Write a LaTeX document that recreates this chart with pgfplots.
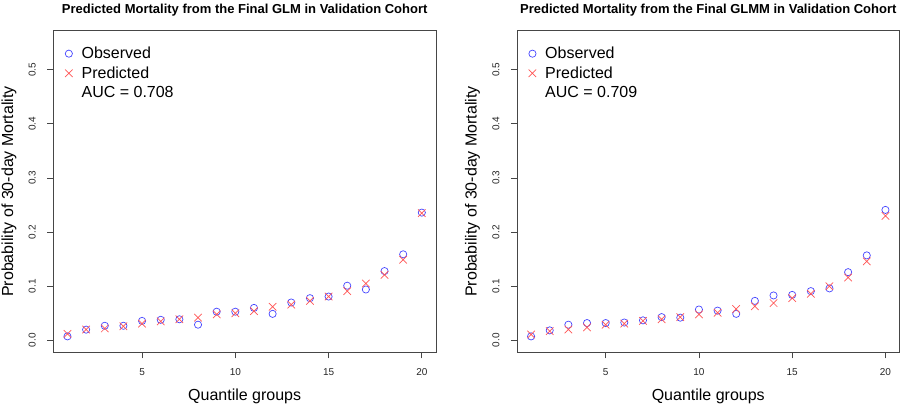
\documentclass[border=0pt]{standalone}
\usepackage{fontspec}
\setmainfont{Liberation Sans}
\usepackage{pgfplots}
\pgfplotsset{compat=1.18}
\usepackage{pgfplotstable}

\definecolor{obsblue}{RGB}{70,70,255}
\definecolor{predred}{RGB}{255,85,85}
\definecolor{boxgray}{RGB}{70,70,70}

% observed / predicted by quantile group
\pgfplotstableread{
q   obs     pred
1   0.0074  0.012
2   0.0198  0.020
3   0.027   0.022
4   0.027   0.026
5   0.036   0.031
6   0.038   0.035
7   0.039   0.039
8   0.029   0.042
9   0.053   0.048
10  0.053   0.050
11  0.060   0.054
12  0.049   0.062
13  0.070   0.066
14  0.078   0.073
15  0.081   0.081
16  0.101   0.091
17  0.094   0.105
18  0.128   0.121
19  0.159   0.149
20  0.236   0.235
}\glmdata

\pgfplotstableread{
q   obs     pred
1   0.0074  0.011
2   0.0185  0.017
3   0.029   0.020
4   0.032   0.024
5   0.032   0.029
6   0.033   0.031
7   0.037   0.036
8   0.043   0.039
9   0.042   0.043
10  0.057   0.048
11  0.055   0.051
12  0.049   0.058
13  0.073   0.063
14  0.083   0.069
15  0.084   0.078
16  0.091   0.086
17  0.096   0.100
18  0.126   0.116
19  0.157   0.146
20  0.241   0.230
}\glmmdata

\pgfplotsset{
  calib/.style={
    anchor=north west,
    scale only axis,
    width=382.7pt, height=321.6pt,
    xmin=0.24, xmax=20.76, ymin=-0.022, ymax=0.572,
    axis line style={boxgray, line width=0.8pt},
    tick style={boxgray, line width=0.8pt},
    tick align=outside, tick pos=left,
    major tick length=6pt,
    xtick={5,10,15,20},
    ytick={0,0.1,0.2,0.3,0.4,0.5},
    xticklabel style={yshift=-7pt},
    yticklabel style={rotate=90, anchor=south,
      /pgf/number format/.cd, fixed, fixed zerofill, precision=1},
    yticklabel shift=8pt,
    ticklabel style={font=\fontsize{10}{12}\selectfont, text=black!85},
    /pgf/number format/assume math mode=true,
    title style={at={(axis description cs:0.5,1)}, anchor=center, yshift=15pt,
      font=\fontsize{13}{15}\selectfont\bfseries},
    xlabel={Quantile groups},
    ylabel={Probability of 30-day Mortality},
    label style={font=\fontsize{16}{19}\selectfont},
    xlabel style={at={(axis description cs:0.5,-0.136)}, anchor=center},
    ylabel style={at={(axis description cs:-0.116,0.5)}, anchor=center, rotate=0},
    legend style={draw=none, fill=none, at={(axis description cs:0.01,0.962)},
      anchor=north west, font=\fontsize{16}{19.5}\selectfont, row sep=2.5pt,
      /tikz/every odd column/.append style={column sep=7pt}},
    legend cell align=left,
  },
  obs/.style={only marks, mark=o, mark size=3.6pt, color=obsblue, line width=0.7pt},
  pred/.style={only marks, mark=x, mark size=5.3pt, color=predred, line width=0.7pt},
}

\begin{document}
\begin{tikzpicture}
\useasboundingbox (0,0) rectangle (900pt,-406pt);

\begin{axis}[calib, at={(53.3pt,-30.7pt)},
  title={Predicted Mortality from the Final GLM in Validation Cohort}]
\addplot[obs] table[x=q, y=obs] {\glmdata};
\addplot[pred] table[x=q, y=pred] {\glmdata};
\addlegendimage{empty legend}
\legend{Observed, Predicted, AUC = 0.708}
\end{axis}

\begin{axis}[calib, at={(516.9pt,-30.7pt)},
  title={Predicted Mortality from the Final GLMM in Validation Cohort}]
\addplot[obs] table[x=q, y=obs] {\glmmdata};
\addplot[pred] table[x=q, y=pred] {\glmmdata};
\addlegendimage{empty legend}
\legend{Observed, Predicted, AUC = 0.709}
\end{axis}
\end{tikzpicture}
\end{document}
